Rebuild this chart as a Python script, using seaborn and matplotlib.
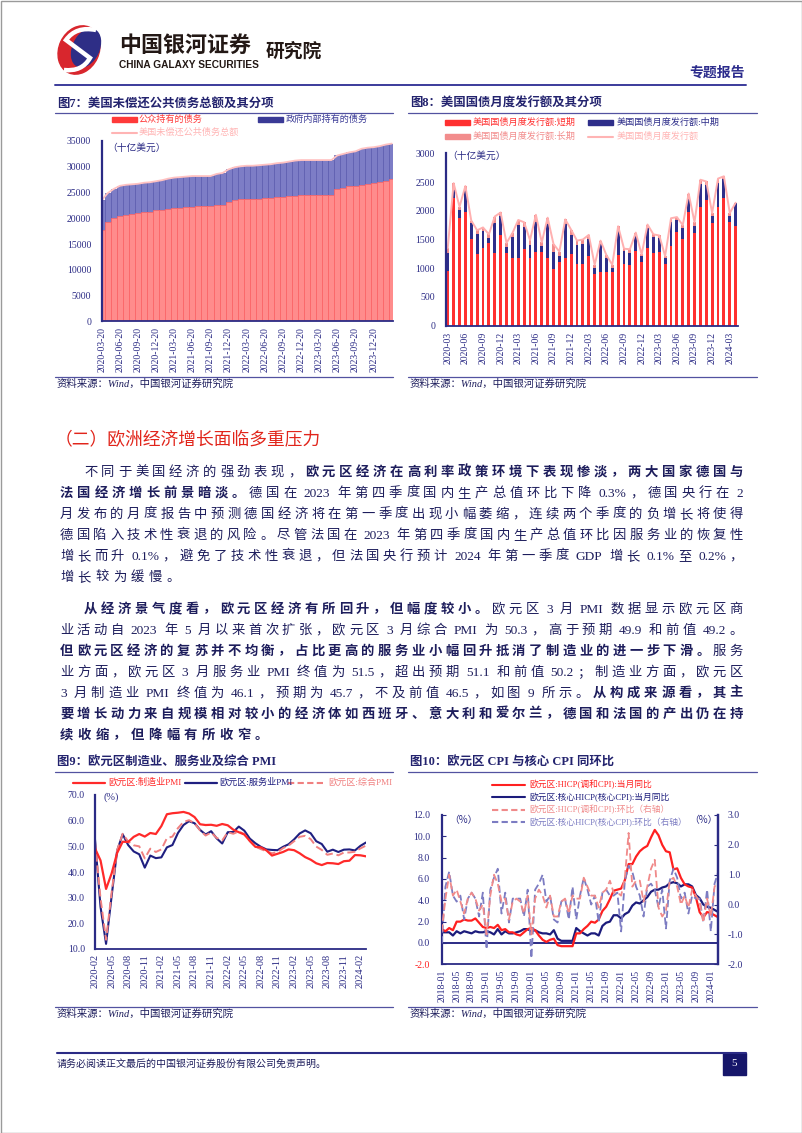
import re
import numpy as np
import pandas as pd
import matplotlib
matplotlib.use('Agg')
import matplotlib.pyplot as plt
from matplotlib.patches import Rectangle, Ellipse, PathPatch
from matplotlib.lines import Line2D
from matplotlib.path import Path
import seaborn as sns

sns.set_style('white')
plt.rcParams['font.family'] = ['Liberation Serif', 'Noto Sans CJK SC', 'DejaVu Sans']
plt.rcParams['axes.unicode_minus'] = False

# ------------------------------------------------------------------ data
# Fig 7: US public debt outstanding (billion USD), monthly 2020-03 .. 2024-03
debt_months = [str(p) for p in pd.period_range('2020-03', '2024-03', freq='M')]
debt_public = [17700, 19200, 20000, 20500, 20600, 20800, 21000, 21200, 21300, 21600,
               21700, 21900, 22000, 22000, 22100, 22200, 22300, 22300, 22300, 22500,
               22600, 23100, 23500, 23700, 23800, 23700, 23800, 23900, 24000, 24100,
               24200, 24300, 24400, 24500, 24600, 24600, 24600, 24600, 24600, 25700,
               25900, 26200, 26300, 26500, 26700, 26900, 27000, 27300, 27600]
debt_total = [23500, 24900, 25700, 26300, 26500, 26600, 26700, 26900, 27000, 27200,
              27400, 27700, 27900, 28000, 28100, 28200, 28200, 28200, 28200, 28600,
              28800, 29500, 29900, 30100, 30200, 30200, 30300, 30400, 30500, 30700,
              30800, 31000, 31200, 31300, 31300, 31300, 31300, 31300, 31300, 32200,
              32500, 32800, 33000, 33500, 33700, 33800, 34000, 34300, 34500]
debt_tick_labels = ['2020-03-20', '2020-06-20', '2020-09-20', '2020-12-20', '2021-03-20',
                    '2021-06-20', '2021-09-20', '2021-12-20', '2022-03-20', '2022-06-20',
                    '2022-09-20', '2022-12-20', '2023-03-20', '2023-06-20', '2023-09-20',
                    '2023-12-20', '']

# Fig 8: US Treasury monthly issuance (billion USD), 2020-03 .. 2024-04
issue_months = [str(p) for p in pd.period_range('2020-03', '2024-04', freq='M')]
issue_short = [950, 2220, 1880, 1970, 1510, 1240, 1350, 1440, 1260, 1580,
               1260, 1170, 1170, 1340, 1170, 1280, 1280, 1170, 980, 1100,
               1170, 1240, 1080, 1080, 1220, 900, 940, 940, 940, 1230,
               1080, 1060, 1300, 1110, 1350, 1260, 1290, 1080, 1380, 1630,
               1500, 1980, 1610, 2060, 2180, 1780, 2060, 2230, 1800, 1740]
issue_mid = [320, 150, 130, 400, 280, 360, 300, 90, 530, 330,
             110, 380, 580, 370, 230, 530, 110, 600, 310, 110,
             600, 340, 330, 350, 290, 110, 500, 240, 70, 420,
             220, 210, 270, 100, 350, 290, 230, 90, 420, 210,
             200, 220, 130, 400, 270, 130, 420, 320, 110, 400]
issue_long = [80, 110, 60, 60, 40, 60, 60, 60, 110, 60,
              70, 60, 90, 90, 90, 120, 60, 110, 130, 80,
              80, 90, 70, 70, 70, 50, 40, 50, 50, 80,
              40, 60, 50, 30, 60, 40, 50, 40, 70, 50,
              50, 100, 60, 80, 60, 50, 80, 50, 50, 0]
issue_tick_labels = ['2020-03', '2020-06', '2020-09', '2020-12', '2021-03', '2021-06',
                     '2021-09', '2021-12', '2022-03', '2022-06', '2022-09', '2022-12',
                     '2023-03', '2023-06', '2023-09', '2023-12', '2024-03']

# Fig 9: Euro area PMI, 2020-02 .. 2024-03
pmi_months = [str(p) for p in pd.period_range('2020-02', '2024-03', freq='M')]
pmi_mfg = [49.2, 44.5, 33.4, 39.4, 47.4, 51.8, 51.7, 53.7, 54.8, 53.8, 55.2,
           54.8, 57.9, 62.5, 62.9, 63.1, 63.4, 62.8, 61.4, 58.6, 58.3, 58.4, 58.0,
           58.7, 58.2, 56.5, 55.5, 54.6, 52.1, 49.8, 49.6, 48.4, 46.4, 47.1, 47.8,
           48.8, 48.5, 47.3, 45.8, 44.8, 43.4, 42.7, 43.5, 43.4, 43.1, 44.2, 44.4,
           46.6, 46.5, 46.1]
pmi_srv = [52.6, 26.4, 12.0, 30.5, 48.3, 54.7, 50.5, 48.0, 46.9, 41.7, 46.4,
           45.4, 45.7, 49.6, 50.5, 55.2, 58.3, 59.8, 59.0, 56.4, 54.6, 55.9, 53.1,
           51.1, 55.5, 55.6, 57.7, 56.1, 53.0, 51.2, 49.8, 48.8, 48.6, 48.5, 49.8,
           50.8, 52.7, 55.0, 56.2, 55.1, 52.0, 50.9, 47.9, 48.7, 47.8, 48.7, 48.8,
           48.4, 50.2, 51.5]
pmi_cmp = [51.6, 29.7, 13.6, 31.9, 48.5, 54.9, 51.9, 50.4, 50.0, 45.3, 49.1,
           47.8, 48.8, 53.2, 53.8, 57.1, 59.5, 60.2, 59.0, 56.2, 54.2, 55.4, 53.3,
           52.3, 55.5, 54.9, 55.8, 54.8, 52.0, 49.9, 48.9, 48.1, 47.3, 47.8, 49.3,
           50.3, 52.0, 53.7, 54.1, 52.8, 49.9, 48.6, 46.7, 47.2, 46.5, 47.6, 47.6,
           47.9, 49.2, 50.3]
pmi_tick_labels = ['2020-02', '2020-05', '2020-08', '2020-11', '2021-02', '2021-05',
                   '2021-08', '2021-11', '2022-02', '2022-05', '2022-08', '2022-11',
                   '2023-02', '2023-05', '2023-08', '2023-11', '2024-02']

# Fig 10: Euro area HICP, 2018-01 .. 2024-03
cpi_months = [str(p) for p in pd.period_range('2018-01', '2024-03', freq='M')]
hicp_yoy = [1.3, 1.1, 1.4, 1.2, 2.0, 2.0, 2.2, 2.1, 2.1, 2.3, 1.9, 1.5,
            1.4, 1.5, 1.4, 1.7, 1.2, 1.3, 1.0, 1.0, 0.8, 0.7, 1.0, 1.3,
            1.4, 1.2, 0.7, 0.3, 0.1, 0.3, 0.4, -0.2, -0.3, -0.3, -0.3, -0.3,
            0.9, 0.9, 1.3, 1.6, 2.0, 1.9, 2.2, 3.0, 3.4, 4.1, 4.9, 5.0,
            5.1, 5.9, 7.4, 7.4, 8.1, 8.6, 8.9, 9.1, 9.9, 10.6, 10.1, 9.2,
            8.6, 8.5, 6.9, 7.0, 6.1, 5.5, 5.3, 5.2, 4.3, 2.9, 2.4, 2.9,
            2.8, 2.6, 2.4]
core_yoy = [1.0, 1.0, 1.0, 0.7, 1.1, 0.9, 1.1, 1.0, 0.9, 1.1, 1.0, 1.0,
            1.1, 1.0, 0.8, 1.3, 0.8, 1.1, 0.9, 0.9, 1.0, 1.1, 1.3, 1.3,
            1.1, 1.2, 1.0, 0.9, 0.9, 0.8, 1.2, 0.4, 0.2, 0.2, 0.2, 0.2,
            1.4, 1.1, 0.9, 0.7, 0.9, 0.9, 0.7, 1.6, 1.9, 2.0, 2.6, 2.6,
            2.3, 2.7, 2.9, 3.5, 3.8, 3.7, 4.0, 4.3, 4.8, 5.0, 5.0, 5.2,
            5.3, 5.6, 5.7, 5.6, 5.3, 5.5, 5.5, 5.3, 4.5, 4.2, 3.6, 3.4,
            3.3, 3.1, 2.9]
hicp_mom = [-0.9, 0.2, 1.0, 0.3, 0.5, 0.1, -0.3, 0.2, 0.4, 0.2, -0.2, 0.0,
            -1.0, 0.3, 1.0, 0.7, 0.1, 0.2, -0.5, 0.1, 0.2, 0.1, -0.3, 0.3,
            -1.0, 0.2, 0.5, 0.3, -0.1, 0.3, -0.4, -0.4, 0.1, 0.2, -0.3, 0.3,
            0.2, 0.2, 0.9, 0.6, 0.3, 0.3, -0.1, 0.4, 0.5, 0.8, 0.4, 0.4,
            0.3, 0.9, 2.4, 0.6, 0.8, 0.8, 0.1, 0.6, 1.2, 1.5, -0.1, -0.4,
            -0.2, 0.8, 0.9, 0.6, 0.0, 0.3, -0.1, 0.5, 0.3, 0.1, -0.6, 0.2,
            -0.4, 0.6, 0.8]
core_mom = [-1.3, 0.6, 1.1, 0.3, 0.1, 0.3, -0.5, 0.2, 0.4, 0.2, -0.4, 0.4,
            -1.5, 0.5, 0.9, 1.2, -0.3, 0.4, -0.6, 0.2, 0.2, 0.2, -0.4, 0.5,
            -1.8, 0.5, 0.7, 1.0, 0.1, 0.3, -0.5, -0.6, 0.1, 0.2, -0.5, 0.6,
            -0.5, 0.3, 0.9, 0.5, 0.0, 0.3, -0.6, 0.4, 0.5, 0.3, 0.3, 0.4,
            -0.9, 0.8, 1.3, 1.1, 0.6, 0.3, -0.4, 0.6, 0.7, 0.5, -0.1, 0.5,
            -0.8, 0.8, 1.2, 0.9, 0.2, 0.4, -0.3, 0.3, 0.2, 0.2, -0.6, 0.5,
            -0.9, 0.7, 1.1]
cpi_tick_labels = ['2018-01', '2018-05', '2018-09', '2019-01', '2019-05', '2019-09',
                   '2020-01', '2020-05', '2020-09', '2021-01', '2021-05', '2021-09',
                   '2022-01', '2022-05', '2022-09', '2023-01', '2023-05', '2023-09',
                   '2024-01']

# ------------------------------------------------------------------ helpers
W, H = 802, 1133
fig = plt.figure(figsize=(W / 100, H / 100), dpi=100)
renderer = fig.canvas.get_renderer()

NAVY = '#2b2b85'
TXT = '#1d1d5c'
CJK = ['Noto Sans CJK SC', 'Liberation Serif']
MIX = ['Liberation Serif', 'Noto Sans CJK SC']


def fx(x):
    return x / W


def fy(y):
    return 1 - y / H


def add_ax(l, t, r, b):
    return fig.add_axes([fx(l), fy(b), (r - l) / W, (b - t) / H])


def ftext(x, y, s, **kw):
    kw.setdefault('va', 'center')
    return fig.text(fx(x), fy(y), s, **kw)


def fline(x0, y0, x1, y1, **kw):
    fig.add_artist(Line2D([fx(x0), fx(x1)], [fy(y0), fy(y1)], transform=fig.transFigure, **kw))


def frect(x0, y0, x1, y1, **kw):
    fig.add_artist(Rectangle((fx(x0), fy(y1)), (x1 - x0) / W, (y1 - y0) / H,
                             transform=fig.transFigure, **kw))


def style_ax(ax, ypad, xpad, xsize=7, right_spine=False):
    ax.spines['top'].set_visible(False)
    ax.spines['right'].set_visible(right_spine)
    for s in ['left', 'bottom', 'right']:
        ax.spines[s].set_color(NAVY)
    ax.spines['left'].set_linewidth(1.6)
    ax.spines['bottom'].set_linewidth(1.3)
    ax.spines['right'].set_linewidth(1.6)
    ax.tick_params(axis='y', direction='in', length=3, width=0.8, color=NAVY,
                   labelsize=7, labelcolor=NAVY, pad=ypad)
    ax.tick_params(axis='x', direction='in', length=3, width=0.8, color=NAVY,
                   labelsize=xsize, labelcolor=NAVY, pad=xpad, labelrotation=90)
    ax.set_xlabel('')
    ax.set_ylabel('')
    ax.grid(False)
    ax.patch.set_alpha(0)


_wc = {}


def is_cjk(tok):
    return any(ord(c) > 255 for c in tok)


def tok_w(tok, bold, size):
    key = (tok, bold, size)
    if key not in _wc:
        if tok == ' ':
            _wc[key] = size * 100 / 72 * 0.25
        else:
            t = fig.text(0, 0, tok, fontsize=size, fontweight='bold' if bold else 'normal',
                         family=CJK if is_cjk(tok) else ['Liberation Serif'])
            _wc[key] = t.get_window_extent(renderer).width
            t.remove()
    return _wc[key]


def tokenize(s):
    return re.findall(r'[A-Za-z0-9.%]+| |.', s)


def para_line(segs, x0, y, x1, size=9.6, justify=True, gap=4.3, color=TXT):
    toks = [(t, b) for s, b in segs for t in tokenize(s)]
    ws = [tok_w(t, b, size) for t, b in toks]
    n_gaps = sum(1 for t, _ in toks if t != ' ') - 1
    if justify:
        gap = (x1 - x0 - sum(ws)) / n_gaps
    x = x0
    for (t, b), w in zip(toks, ws):
        if t == ' ':
            x += w
            continue
        fig.text(fx(x), fy(y + 4.6), t, fontsize=size, color=color,
                 fontweight='bold' if b else 'normal', va='baseline', ha='left',
                 family=CJK if is_cjk(t) else ['Liberation Serif'])
        x += w + gap


# ------------------------------------------------------------------ page frame + header
frect(0.5, 0.5, W - 0.5, H - 0.5, fill=False, edgecolor='#9a9a9a', linewidth=1.0)

ax_logo = add_ax(52, 24, 112, 76)
ax_logo.set_xlim(0, 60)
ax_logo.set_ylim(0, 52)
ax_logo.axis('off')
ax_logo.add_patch(Ellipse((27, 26), 40, 50, angle=-25, color='#d8262d'))
ax_logo.add_patch(Ellipse((34, 28), 26, 40, angle=-25, color='#2e2e86'))
s_path = Path([(44, 46), (24, 50), (14, 36), (26, 27), (38, 18), (30, 4), (12, 6)],
              [Path.MOVETO, Path.CURVE3, Path.CURVE3, Path.CURVE3, Path.CURVE3,
               Path.CURVE3, Path.CURVE3])
ax_logo.add_patch(PathPatch(s_path, facecolor='none', edgecolor='white', lw=3.2))

ftext(119, 45, '中国银河证券', fontsize=15.8, fontweight='bold', color='#231815', family=CJK)
ftext(119, 65.5, 'CHINA GALAXY SECURITIES', fontsize=7.3, fontweight='bold',
      color='#231815', family=['Liberation Sans Narrow', 'Liberation Sans'])
ftext(266, 51, '研究院', fontsize=13.5, fontweight='bold', color='#231815', family=CJK)
ftext(745, 73, '专题报告', fontsize=10, fontweight='bold', color='#2b2b8c', family=CJK,
      ha='right')
fline(55, 84.5, 746, 84.5, color='#3b3b9b', linewidth=1.4)

# ------------------------------------------------------------------ titles / sources
def chart_frame(x0, x1, ty, title, src_line_y, src_y):
    ftext(x0 + 2, ty, title, fontsize=8.9, fontweight='bold', color='#23236e', family=MIX)
    fline(x0, ty + 9.5, x1, ty + 9.5, color='#5252a0', linewidth=0.9)
    fline(x0, src_line_y, x1, src_line_y, color='#5252a0', linewidth=0.9)
    ftext(x0 + 2, src_y, '资料来源：Wind，中国银河证券研究院', fontsize=7.5, style='italic',
          color=TXT, family=MIX)


chart_frame(55, 393, 103.5, '图7：美国未偿还公共债务总额及其分项', 377, 384)
chart_frame(408, 757, 103.5, '图8：美国国债月度发行额及其分项', 377, 384)
chart_frame(55, 393, 762.5, '图9：欧元区制造业、服务业及综合 PMI', 1006.5, 1014)
chart_frame(408, 757, 762.5, '图10：欧元区 CPI 与核心 CPI 同环比', 1006.5, 1014)

# ------------------------------------------------------------------ Fig 7
ax7 = add_ax(101.7, 141, 393, 321.4)
x7 = np.arange(len(debt_months))
sns.barplot(x=x7, y=debt_total, ax=ax7, native_scale=True, color='#7d7dc6', saturation=1,
            width=1.0, errorbar=None, linewidth=0.5, edgecolor='#5a5aae')
sns.barplot(x=x7, y=debt_public, ax=ax7, native_scale=True, color='#ff8c8c', saturation=1,
            width=1.0, errorbar=None, linewidth=0.5, edgecolor='#ff6262')
sns.lineplot(x=x7, y=debt_total, ax=ax7, color='#ffc2c2', linewidth=1.3)
ax7.set_xlim(0, 48.2)
ax7.set_ylim(0, 35000)
ax7.set_yticks(np.arange(0, 35001, 5000))
ax7.set_yticklabels([f'{v:d}' for v in range(0, 35001, 5000)])
ax7.set_xticks(x7[::3])
ax7.set_xticklabels(debt_tick_labels)
style_ax(ax7, ypad=7.5, xpad=4)
ftext(107, 147.5, '（十亿美元）', fontsize=7, color=NAVY, family=CJK)

frect(112, 116.8, 137, 121.8, color='#ff3a3a')
ftext(139, 119.3, '公众持有的债务', fontsize=6.6, color='#ff3a3a', family=MIX)
frect(258, 116.8, 283, 121.8, color='#3a3a96')
ftext(286, 119.3, '政府内部持有的债务', fontsize=6.6, color='#3a3a96', family=MIX)
fline(112, 132.7, 137, 132.7, color='#ffb4b4', linewidth=1.5)
ftext(139, 132.7, '美国未偿还公共债务总额', fontsize=6.6, color='#ffb4b4', family=MIX)

# ------------------------------------------------------------------ Fig 8
ax8 = add_ax(445.7, 153.3, 738, 325.7)
x8 = np.arange(len(issue_months))
cum_mid = [s + m for s, m in zip(issue_short, issue_mid)]
cum_all = [s + m + l for s, m, l in zip(issue_short, issue_mid, issue_long)]
sns.barplot(x=x8, y=cum_all, ax=ax8, native_scale=True, color='#f28c8c', saturation=1,
            width=0.5, errorbar=None, linewidth=0)
sns.barplot(x=x8, y=cum_mid, ax=ax8, native_scale=True, color='#2e2e8a', saturation=1,
            width=0.5, errorbar=None, linewidth=0)
sns.barplot(x=x8, y=issue_short, ax=ax8, native_scale=True, color='#ff3030', saturation=1,
            width=0.5, errorbar=None, linewidth=0)
sns.lineplot(x=x8, y=cum_all, ax=ax8, color='#ffb0b0', linewidth=1.4)
ax8.set_xlim(-0.35, 49.4)
ax8.set_ylim(0, 3000)
ax8.set_yticks(np.arange(0, 3001, 500))
ax8.set_yticklabels([f'{v:d}' for v in range(0, 3001, 500)])
ax8.set_xticks(x8[:49:3])
ax8.set_xticklabels(issue_tick_labels)
style_ax(ax8, ypad=7.7, xpad=4.3)
ftext(447, 156, '（十亿美元）', fontsize=7, color=NAVY, family=CJK)

frect(445, 120.3, 470, 125.1, color='#ff3030')
ftext(473, 122.7, '美国国债月度发行额:短期', fontsize=6.6, color='#ff3030', family=MIX)
frect(588, 120.3, 613, 125.1, color='#2e2e8a')
ftext(617, 122.7, '美国国债月度发行额:中期', fontsize=6.6, color='#2e2e8a', family=MIX)
frect(445, 134.3, 470, 139.1, color='#f28c8c')
ftext(473, 136.7, '美国国债月度发行额:长期', fontsize=6.6, color='#f28c8c', family=MIX)
fline(588, 136.7, 613, 136.7, color='#ffb4b4', linewidth=1.5)
ftext(617, 136.7, '美国国债月度发行额', fontsize=6.6, color='#ffb4b4', family=MIX)

# ------------------------------------------------------------------ section heading + body
ftext(55, 440, '（二）欧洲经济增长面临多重压力', fontsize=12.8, color='#e1251b', family=CJK)

R, B = False, True
X0, X1, XI = 60, 743, 84
p1 = [
    ([('不同于美国经济的强劲表现，', R), ('欧元区经济在高利率政策环境下表现惨淡，两大国家德国与', B)], XI, 471, True),
    ([('法国经济增长前景暗淡。', B), ('德国在 2023 年第四季度国内生产总值环比下降 0.3%，德国央行在 2', R)], X0, 492, True),
    ([('月发布的月度报告中预测德国经济将在第一季度出现小幅萎缩，连续两个季度的负增长将使得', R)], X0, 513, True),
    ([('德国陷入技术性衰退的风险。尽管法国在 2023 年第四季度国内生产总值环比因服务业的恢复性', R)], X0, 534, True),
    ([('增长而升 0.1%，避免了技术性衰退，但法国央行预计 2024 年第一季度 GDP 增长 0.1%至 0.2%，', R)], X0, 555, True),
    ([('增长较为缓慢。', R)], X0, 576, False),
    ([('从经济景气度看，欧元区经济有所回升，但幅度较小。', B), ('欧元区 3 月 PMI 数据显示欧元区商', R)], XI, 608, True),
    ([('业活动自 2023 年 5 月以来首次扩张，欧元区 3 月综合 PMI 为 50.3，高于预期 49.9 和前值 49.2。', R)], X0, 629, True),
    ([('但欧元区经济的复苏并不均衡，占比更高的服务业小幅回升抵消了制造业的进一步下滑。', B), ('服务', R)], X0, 650, True),
    ([('业方面，欧元区 3 月服务业 PMI 终值为 51.5，超出预期 51.1 和前值 50.2；制造业方面，欧元区', R)], X0, 671, True),
    ([('3 月制造业 PMI 终值为 46.1，预期为 45.7，不及前值 46.5，如图 9 所示。', R), ('从构成来源看，其主', B)], X0, 692, True),
    ([('要增长动力来自规模相对较小的经济体如西班牙、意大利和爱尔兰，德国和法国的产出仍在持', B)], X0, 713, True),
    ([('续收缩，但降幅有所收窄。', B)], X0, 734, False),
]
for segs, xs, yy, just in p1:
    para_line(segs, xs, yy, X1, justify=just)

# ------------------------------------------------------------------ Fig 9
ax9 = add_ax(95, 795, 366, 949)
x9 = np.arange(len(pmi_months))
sns.lineplot(x=x9, y=pmi_srv, ax=ax9, color='#1f1f80', linewidth=1.5)
sns.lineplot(x=x9, y=pmi_cmp, ax=ax9, color='#f08080', linewidth=1.4)
ax9.lines[-1].set_dashes([4, 2])
sns.lineplot(x=x9, y=pmi_mfg, ax=ax9, color='#ff2a2a', linewidth=1.6)
ax9.set_xlim(0, 49)
ax9.set_ylim(10, 70)
ax9.set_yticks(np.arange(10, 71, 10))
ax9.set_yticklabels([f'{v:.1f}' for v in range(10, 71, 10)])
ax9.set_xticks(x9[::3][:17])
ax9.set_xticklabels(pmi_tick_labels)
style_ax(ax9, ypad=7.2, xpad=3.5, xsize=7.4)
ftext(103, 797, '(%)', fontsize=7.5, color=NAVY)

fline(73, 782.7, 105, 782.7, color='#ff2a2a', linewidth=1.6)
ftext(108, 782.7, '欧元区:制造业PMI', fontsize=6.6, color='#ff2a2a', family=MIX)
fline(185, 782.7, 217, 782.7, color='#1f1f80', linewidth=1.6)
ftext(219, 782.7, '欧元区:服务业PMI', fontsize=6.6, color='#1f1f80', family=MIX)
fline(288, 782.7, 325, 782.7, color='#f08080', linewidth=1.5, dashes=[3, 1.6])
ftext(328, 782.7, '欧元区:综合PMI', fontsize=6.6, color='#f08080', family=MIX)

# ------------------------------------------------------------------ Fig 10
ax10 = add_ax(441.7, 815, 718.3, 964.3)
x10 = np.arange(len(cpi_months))
ax10.axhline(0, color=NAVY, linewidth=1.4, zorder=1)
sns.lineplot(x=x10, y=core_yoy, ax=ax10, color='#1c1c7c', linewidth=1.6)
sns.lineplot(x=x10, y=hicp_yoy, ax=ax10, color='#ff2020', linewidth=1.6)
ax10.set_xlim(0, 74)
ax10.set_ylim(-2, 12)
ax10.set_yticks(np.arange(-2, 12.1, 2))
ax10.set_yticklabels([f'{v:.1f}' for v in np.arange(-2, 12.1, 2)])
ax10.set_xticks(x10[::4])
ax10.set_xticklabels(cpi_tick_labels)
style_ax(ax10, ypad=8.4, xpad=4.1, right_spine=True)
ax10.get_yticklabels()[0].set_color('#ff2020')

ax10r = ax10.twinx()
sns.lineplot(x=x10, y=core_mom, ax=ax10r, color='#7c7cc2', linewidth=1.3)
ax10r.lines[-1].set_dashes([4, 2])
sns.lineplot(x=x10, y=hicp_mom, ax=ax10r, color='#f08a8a', linewidth=1.3)
ax10r.lines[-1].set_dashes([4, 2])
ax10r.set_ylim(-2, 3)
ax10r.set_yticks(np.arange(-2, 3.1, 1))
ax10r.set_yticklabels([f'{v:.1f}' for v in np.arange(-2, 3.1, 1)])
ax10r.set_xlim(0, 74)
for s in ['top', 'left', 'bottom']:
    ax10r.spines[s].set_visible(False)
ax10r.spines['right'].set_color(NAVY)
ax10r.spines['right'].set_linewidth(1.6)
ax10r.tick_params(axis='y', direction='in', length=3, width=0.8, color=NAVY,
                  labelsize=7, labelcolor=NAVY, pad=6.8)
ax10r.set_ylabel('')
ax10r.grid(False)
ftext(449, 820, '（%）', fontsize=7, color=NAVY, family=CJK)
ftext(689, 820, '（%）', fontsize=7, color=NAVY, family=CJK)

leg10 = [('欧元区:HICP(调和CPI):当月同比', '#ff2020', None),
         ('欧元区:核心HICP(核心CPI):当月同比', '#1c1c7c', None),
         ('欧元区:HICP(调和CPI):环比（右轴）', '#f08a8a', [3, 1.6]),
         ('欧元区:核心HICP(核心CPI):环比（右轴）', '#7c7cc2', [3, 1.6])]
for i, (lab, col, dsh) in enumerate(leg10):
    yy = 785 + i * 12.4
    kw = {'dashes': dsh} if dsh else {}
    fline(492, yy, 525, yy, color=col, linewidth=1.5, **kw)
    ftext(529, yy, lab, fontsize=6.3, color=col, family=MIX)

# ------------------------------------------------------------------ footer
fline(57, 1052.5, 746, 1052.5, color='#2b2b85', linewidth=1.5)
ftext(57, 1063.5, '请务必阅读正文最后的中国银河证券股份有限公司免责声明。', fontsize=7.2,
      color=TXT, family=CJK)
frect(723, 1053, 746, 1075, color='#16166a')
ftext(734.5, 1064, '5', fontsize=8, color='white', ha='center')

fig.savefig('out.png', dpi=100)
